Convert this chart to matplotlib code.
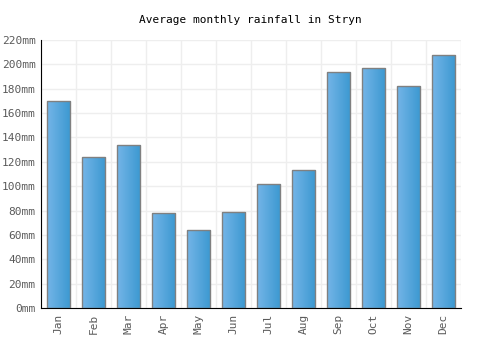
import numpy as np
import matplotlib.pyplot as plt
from matplotlib.colors import LinearSegmentedColormap

months = ["Jan", "Feb", "Mar", "Apr", "May", "Jun", "Jul", "Aug", "Sep", "Oct", "Nov", "Dec"]
rainfall = [170, 124, 134, 78, 64, 79, 102, 113, 194, 197, 182, 208]
yticks = [0, 20, 40, 60, 80, 100, 120, 140, 160, 180, 200, 220]

plt.rcParams['font.family'] = ['DejaVu Sans Mono']

fig = plt.figure(figsize=(5, 3.5), dpi=100)
ax = fig.add_axes([0.082, 0.12, 0.84, 0.7657])

x = np.arange(len(months))
bars = ax.bar(x, rainfall, width=0.67, facecolor='none', edgecolor='#808080', linewidth=1, zorder=3)

# horizontal gradient inside each bar
cmap = LinearSegmentedColormap.from_list("rain", ["#74b5e8", "#3b98d0"])
grad = np.linspace(0, 1, 64).reshape(1, -1)
for b in bars:
    x0, w, h = b.get_x(), b.get_width(), b.get_height()
    im = ax.imshow(grad, cmap=cmap, extent=[x0, x0 + w, 0, h], aspect='auto', zorder=2)
    im.set_clip_path(b)

ax.set_xlim(-0.5, len(months) - 0.5)
ax.set_ylim(0, 220)
ax.set_xticks(x)
ax.set_xticklabels(months, rotation=90, fontsize=8, color='#5a5a5a')
ax.set_yticks(yticks)
ax.set_yticklabels([f"{v}mm" for v in yticks], fontsize=8, color='#5a5a5a')
ax.set_xticks(np.arange(-0.5, len(months), 1), minor=True)
ax.grid(True, which='minor', axis='x', color='#eeeeee', linewidth=1, zorder=0)
ax.grid(True, which='major', axis='y', color='#eeeeee', linewidth=1, zorder=0)
ax.tick_params(axis='both', which='both', length=0, pad=4)

for s in ['top', 'right']:
    ax.spines[s].set_visible(False)
ax.spines['left'].set_color('black')
ax.spines['bottom'].set_color('black')

fig.suptitle("Average monthly rainfall in Stryn", y=0.943, va='center', fontsize=8)

fig.savefig("out.png", dpi=100)
